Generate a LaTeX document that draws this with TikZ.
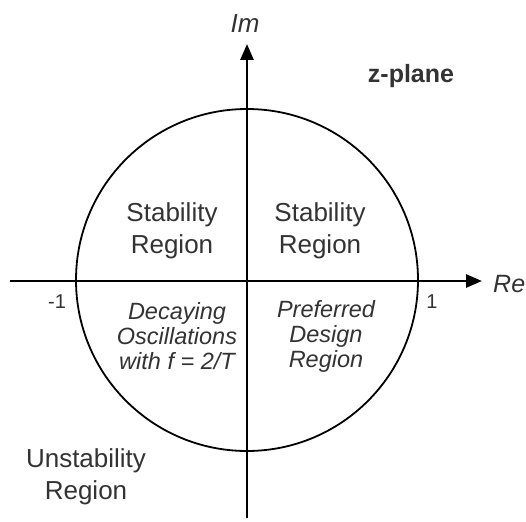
\documentclass[tikz,border=0pt]{standalone}
\usepackage{fontspec}
\setmainfont{Liberation Sans}
\usetikzlibrary{arrows.meta}
\begin{document}
\begin{tikzpicture}[x=1pt,y=-1pt,
  axis/.style={line width=2.8pt,-{Triangle[length=16pt,width=13pt]}},
  lbl/.style={font=\fontsize{26}{32}\selectfont,align=center,text=black!80,inner sep=0pt},
  ilbl/.style={font=\fontsize{23.5}{25}\selectfont\itshape,align=center,text=black!80,inner sep=0pt},
  num/.style={font=\fontsize{20}{24}\selectfont,inner sep=0pt,text=black!80}]
\useasboundingbox[fill=white] (0,0) rectangle (526,521);
\coordinate (O) at (247,280);
\draw[line width=1.8pt] (O) circle[radius=171];
\coordinate (xs) at (10,281);
\coordinate (xe) at (482,281);
\coordinate (ys) at (247,518);
\coordinate (ye) at (247,44);
\draw[axis] (xs) -- (xe);
\draw[axis] (ys) -- (ye);
\node[lbl,font=\fontsize{25}{32}\selectfont\itshape,anchor=west] (re) at (493,284) {Re};
\node[lbl,font=\fontsize{26}{32}\selectfont\itshape] (im) at (245,24) {Im};
\node[lbl,font=\fontsize{25}{32}\selectfont\bfseries] (zp) at (411,76) {z-plane};
\node[num] (m1) at (57,302) {-1};
\node[num] (p1) at (432,302) {1};
\node[lbl] (s1) at (172,231) {Stability\\Region};
\node[lbl] (s2) at (320,231) {Stability\\Region};
\node[ilbl] (dec) at (177,336) {Decaying\\Oscillations\\with \textit{f} = 2/\textit{T}};
\node[ilbl] (pref) at (326,336) {Preferred\\Design\\Region};
\node[lbl] (un) at (86,477) {Unstability\\Region};
\end{tikzpicture}
\end{document}
